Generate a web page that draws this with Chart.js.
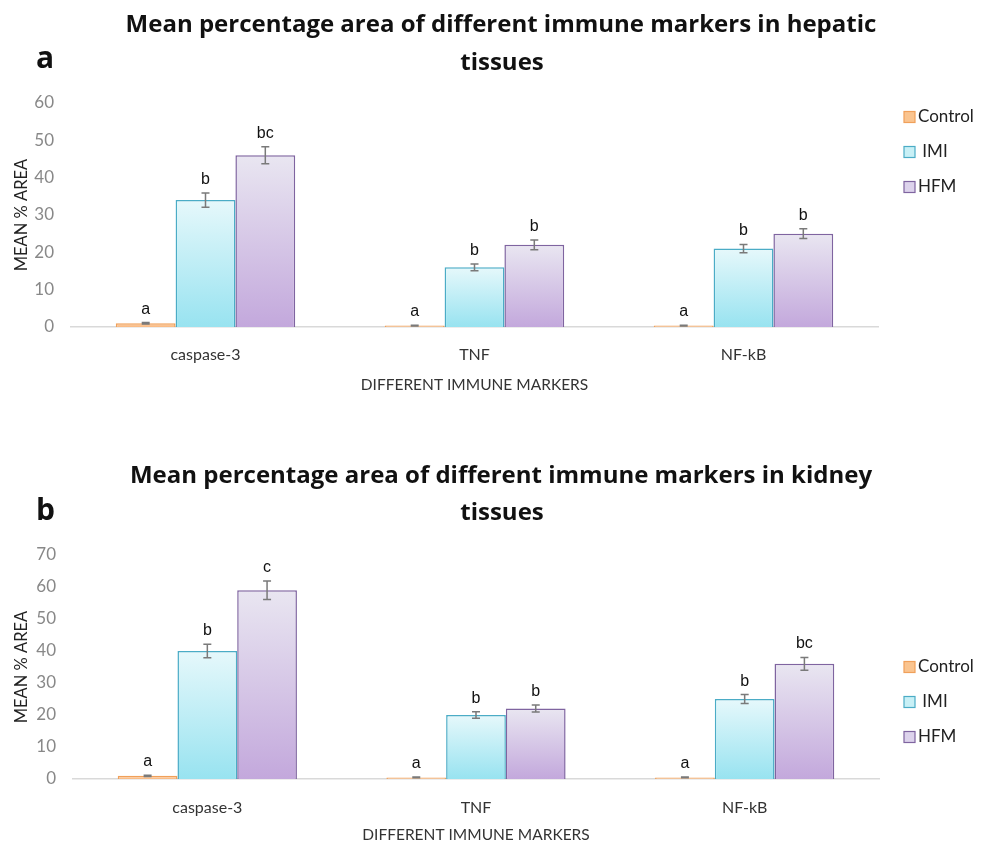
<!DOCTYPE html>
<html><head><meta charset="utf-8">
<script src="https://cdn.jsdelivr.net/npm/chart.js@4"></script>
<style>html,body{margin:0;padding:0;background:#fff;overflow:hidden}canvas{position:absolute;left:0}</style>
</head><body>
<canvas id="c1" width="987" height="420" style="top:0"></canvas>
<canvas id="c2" width="987" height="425" style="top:420px"></canvas>
<script>
// ---- data ----
const categories = ['caspase-3', 'TNF', 'NF-kB'];
const seriesNames = ['Control', ' IMI', 'HFM'];

const hepaticControl = [1.0, 0.4, 0.4];
const hepaticIMI = [34, 16, 21];
const hepaticHFM = [46, 22, 25];
const hepaticControlErr = [0.2, 0.1, 0.1];
const hepaticIMIErr = [1.9, 0.9, 1.1];
const hepaticHFMErr = [2.3, 1.3, 1.3];
const hepaticControlLetters = ['a', 'a', 'a'];
const hepaticIMILetters = ['b', 'b', 'b'];
const hepaticHFMLetters = ['bc', 'b', 'b'];
const hepaticTicks = [0, 10, 20, 30, 40, 50, 60];

const kidneyControl = [1.0, 0.5, 0.5];
const kidneyIMI = [40, 20, 25];
const kidneyHFM = [59, 22, 36];
const kidneyControlErr = [0.2, 0.1, 0.1];
const kidneyIMIErr = [2.1, 1.0, 1.4];
const kidneyHFMErr = [2.9, 1.1, 2.0];
const kidneyControlLetters = ['a', 'a', 'a'];
const kidneyIMILetters = ['b', 'b', 'b'];
const kidneyHFMLetters = ['c', 'b', 'bc'];
const kidneyTicks = [0, 10, 20, 30, 40, 50, 60, 70];

const hepaticTitle = ['Mean percentage area of different immune markers in hepatic', 'tissues'];
const kidneyTitle = ['Mean percentage area of different immune markers in kidney', 'tissues'];
const hepaticPanel = 'a';
const kidneyPanel = 'b';
const yAxisTitle = 'MEAN % AREA';
const xAxisTitle = 'DIFFERENT IMMUNE MARKERS';

// ---- styles ----
const borderColors = ['#f0a05a', '#4bacc6', '#7f64a0'];
const legendFills = ['#fac48f', '#c8f0f6', '#ddd3ec'];
const gradStops = [
  ['#fcd3ac', '#f9b880'],
  ['#e6f8fb', '#98e3f0'],
  ['#e9e6f1', '#c3a8dc']
];

function barGradient(i) {
  return function (ctx) {
    const chart = ctx.chart;
    const y = chart.scales && chart.scales.y;
    if (!y || ctx.raw === undefined || !chart.chartArea) return gradStops[i][1];
    const top = y.getPixelForValue(ctx.raw);
    const bot = y.getPixelForValue(0);
    if (!isFinite(top) || !isFinite(bot) || bot - top < 1) return gradStops[i][1];
    const g = chart.ctx.createLinearGradient(0, top, 0, bot);
    g.addColorStop(0, gradStops[i][0]);
    g.addColorStop(1, gradStops[i][1]);
    return g;
  };
}

const extrasPlugin = {
  id: 'extras',
  afterDatasetsDraw(chart, args, opts) {
    const ctx = chart.ctx;
    const y = chart.scales.y;
    ctx.save();
    chart.data.datasets.forEach((ds, i) => {
      const meta = chart.getDatasetMeta(i);
      meta.data.forEach((bar, j) => {
        const v = ds.data[j], e = ds.errors[j];
        const yt = y.getPixelForValue(v + e), yb = y.getPixelForValue(v - e);
        ctx.strokeStyle = '#7a7a7a';
        ctx.lineWidth = 1.5;
        ctx.beginPath();
        ctx.moveTo(bar.x, yt); ctx.lineTo(bar.x, yb);
        ctx.moveTo(bar.x - 4, yt); ctx.lineTo(bar.x + 4, yt);
        ctx.moveTo(bar.x - 4, yb); ctx.lineTo(bar.x + 4, yb);
        ctx.stroke();
        ctx.fillStyle = '#111';
        ctx.font = '16px "Liberation Sans", Arial, sans-serif';
        ctx.textAlign = 'center';
        ctx.textBaseline = 'alphabetic';
        ctx.fillText(ds.letters[j], bar.x, yt - 9);
      });
    });
    ctx.restore();
  },
  afterDraw(chart, args, opts) {
    const ctx = chart.ctx;
    ctx.save();
    ctx.fillStyle = '#111';
    ctx.textAlign = 'center';
    ctx.textBaseline = 'alphabetic';
    ctx.font = 'bold 24px "Open Sans", sans-serif';
    ctx.fillText(opts.title[0], 501, opts.titleY[0]);
    ctx.fillText(opts.title[1], 502, opts.titleY[1]);
    ctx.textAlign = 'left';
    ctx.font = 'bold 30px "Open Sans", sans-serif';
    ctx.fillText(opts.panel, 36, opts.panelY);
    // legend
    ctx.font = '17px Lato, sans-serif';
    ctx.textBaseline = 'middle';
    chart.data.datasets.forEach((ds, i) => {
      const yy = opts.legendY + i * 35;
      ctx.fillStyle = legendFills[i];
      ctx.fillRect(904, yy - 5.5, 11, 11);
      ctx.strokeStyle = borderColors[i];
      ctx.lineWidth = 1.2;
      ctx.strokeRect(904, yy - 5.5, 11, 11);
      ctx.fillStyle = '#222';
      ctx.fillText(ds.label, 918, yy);
    });
    ctx.restore();
  }
};

function makeChart(id, vals, errs, letters, ticks, cfg) {
  const datasets = vals.map((d, i) => ({
    label: seriesNames[i],
    data: d,
    errors: errs[i],
    letters: letters[i],
    backgroundColor: barGradient(i),
    borderColor: borderColors[i],
    borderWidth: 1.5,
    categoryPercentage: 0.667,
    barPercentage: 1.0
  }));
  return new Chart(document.getElementById(id), {
    type: 'bar',
    data: { labels: categories, datasets },
    plugins: [extrasPlugin],
    options: {
      responsive: false,
      animation: false,
      devicePixelRatio: 1,
      layout: { padding: { top: cfg.top, right: cfg.right, left: 0, bottom: 0 } },
      plugins: {
        legend: { display: false },
        tooltip: { enabled: false },
        extras: cfg
      },
      scales: {
        x: {
          grid: { display: false, drawTicks: false },
          border: { display: true, color: '#d9d9d9', width: 1.5 },
          ticks: { color: '#333', font: { family: 'Lato', size: 16 }, padding: cfg.xTickPad },
          title: { display: true, text: xAxisTitle, color: '#333', font: { family: 'Lato', size: 15.5 }, padding: { top: 0, bottom: cfg.xTitlePad } },
          afterFit(s) { s.height = cfg.xHeight; }
        },
        y: {
          min: ticks[0], max: ticks[ticks.length - 1],
          afterBuildTicks(s) { s.ticks = ticks.map(v => ({ value: v })); },
          grid: { display: false, drawTicks: false },
          border: { display: false },
          ticks: { color: '#888', font: { family: 'Lato', size: 17 }, padding: 17 },
          title: { display: true, text: yAxisTitle, color: '#222', font: { family: 'Lato', size: 16.5 }, padding: { top: 12, bottom: 0 } },
          afterFit(s) { s.width = cfg.left; }
        }
      }
    }
  });
}

makeChart('c1', [hepaticControl, hepaticIMI, hepaticHFM],
  [hepaticControlErr, hepaticIMIErr, hepaticHFMErr],
  [hepaticControlLetters, hepaticIMILetters, hepaticHFMLetters], hepaticTicks,
  { top: 103, right: 109, left: 71, xHeight: 93, xTickPad: 18, xTitlePad: 26,
    title: hepaticTitle, titleY: [32, 70], panel: hepaticPanel, panelY: 68, legendY: 117 });

makeChart('c2', [kidneyControl, kidneyIMI, kidneyHFM],
  [kidneyControlErr, kidneyIMIErr, kidneyHFMErr],
  [kidneyControlLetters, kidneyIMILetters, kidneyHFMLetters], kidneyTicks,
  { top: 135, right: 108, left: 73, xHeight: 66, xTickPad: 19, xTitlePad: 1,
    title: kidneyTitle, titleY: [63, 100], panel: kidneyPanel, panelY: 100, legendY: 247 });
</script>
</body></html>
